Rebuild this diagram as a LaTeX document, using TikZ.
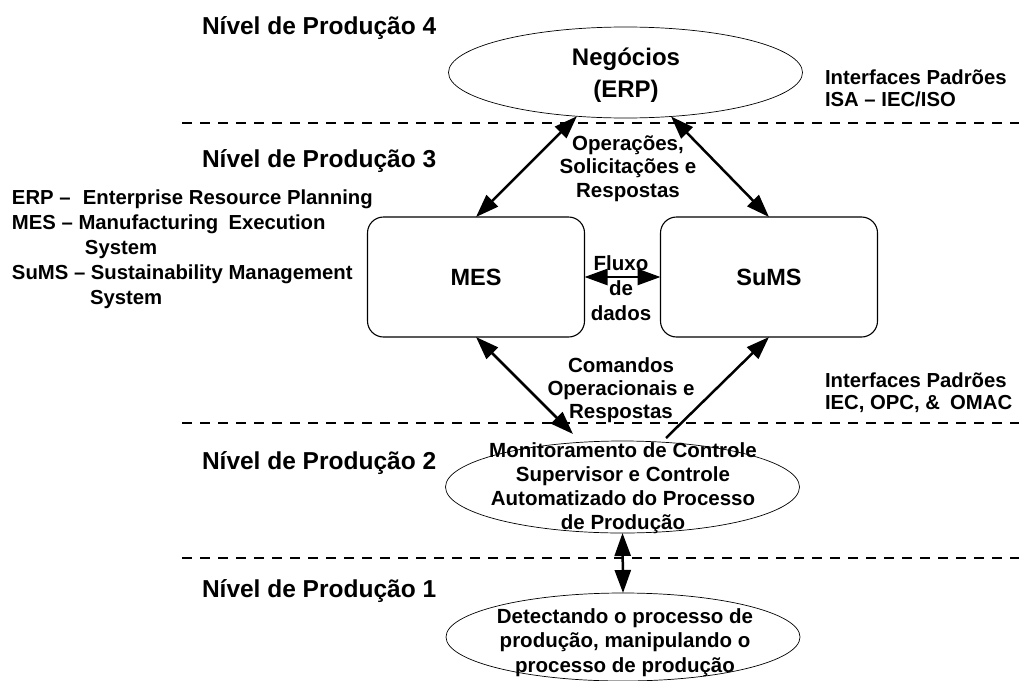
\documentclass[tikz,border=0pt]{standalone}
\usepackage{fontspec}
\setmainfont{Liberation Sans}
\usetikzlibrary{shapes.geometric,arrows.meta,calc}

% font size helper and stacked lines whose first baseline is the box baseline
\newcommand\setfs[2]{\fontsize{#1}{#2}\selectfont}
\newcommand\txtlines[2]{\begin{tabular}[t]{@{}#1@{}}#2\end{tabular}}

\begin{document}
\begin{tikzpicture}[x=1pt,y=-1pt,
  every node/.style={inner sep=0pt, outer sep=0pt},
  levellabel/.style={anchor=base west, font=\bfseries\setfs{24.5}{29}},
  note/.style={anchor=base west, font=\bfseries\setfs{20.3}{22}},
  flowtext/.style={anchor=base, font=\bfseries\setfs{20.5}{24}},
  sysbox/.style={draw, line width=1.1pt, rounded corners=16pt,
    minimum width=217pt, minimum height=120pt, font=\bfseries\setfs{23.5}{27}},
  stage/.style={draw, ellipse, line width=0.7pt, minimum width=354pt},
  tip/.tip={Triangle[length=23pt,width=16pt]},
  link/.style={line width=2.5pt, tip-tip},
  uplink/.style={line width=2.5pt, -tip},
  levelsep/.style={line width=1.4pt, dash pattern=on 10pt off 8pt}
]
\useasboundingbox (0,0) rectangle (1019,680);
\fill[white] (0,0) rectangle (1019,680);

% production level separators
\draw[levelsep] (182,123) -- (1019,123);
\draw[levelsep] (182,423) -- (1019,423);
\draw[levelsep] (182,558) -- (1019,558);

% level labels
\node[levellabel] (n4) at (202,34)  {Nível de Produção 4};
\node[levellabel] (n3) at (202,167) {Nível de Produção 3};
\node[levellabel] (n2) at (202,469) {Nível de Produção 2};
\node[levellabel] (n1) at (202,597) {Nível de Produção 1};

% abbreviations
\node[note, font=\bfseries\setfs{20.3}{25}] (legend) at (12,204)
  {\txtlines{l}{ERP –\hspace{0.6em}Enterprise Resource Planning\\
   MES – Manufacturing\hspace{0.5em}Execution\\
   \hspace*{73pt}System\\
   SuMS – Sustainability Management\\
   \hspace*{78pt}System}};

% standard interfaces
\node[note] (ifaceA) at (825,84)  {\txtlines{l}{Interfaces Padrões\\ISA – IEC/ISO}};
\node[note] (ifaceB) at (825,387) {\txtlines{l}{Interfaces Padrões\\IEC, OPC, \&\hspace{0.5em}OMAC}};

% level 4: business
\node[stage, minimum height=91pt] (erp) at (625.5,72.5) {};
\node[flowtext, font=\bfseries\setfs{24}{32}] (erptext) at (626,65)
  {\txtlines{c}{Negócios\\(ERP)}};

% level 3: MES and SuMS
\node[sysbox] (mes)  at (476,277) {MES};
\node[sysbox] (sums) at (769,277) {SuMS};

% level 2 and level 1
\node[stage, minimum height=92pt] (ctrl)  at (622.5,487) {};
\node[stage, minimum height=88pt] (sense) at (623,637) {};

\node[flowtext, font=\bfseries\setfs{20.5}{24.3}] (ctrltext) at (623,457)
  {\txtlines{c}{Monitoramento de Controle\\Supervisor e Controle\\Automatizado do Processo\\de Produção}};
\node[flowtext, font=\bfseries\setfs{20.5}{24.5}] (sensetext) at (625,623)
  {\txtlines{c}{Detectando o processo de\\produção, manipulando o\\processo de produção}};

% connectors
\draw[link] (erp.222) -- (mes.north);
\draw[link] (erp.316.6) -- (sums.north);
\draw[link] (mes.east) -- (sums.west);
\coordinate (cmdtip) at (573,434);
\draw[link] (mes.south) -- (cmdtip);
\coordinate (sumsfoot) at (666,438);
\draw[uplink] (sumsfoot) -- (sums.south);
\draw[link] (ctrl.south) -- (sense.north);

% connector labels
\node[flowtext, font=\bfseries\setfs{20.5}{23.5}] (opstext) at (628,150)
  {\txtlines{c}{Operações,\\Solicitações e\\Respostas}};
\node[flowtext, font=\bfseries\setfs{20.5}{25}] (flowlbl) at (621,270)
  {\txtlines{c}{Fluxo\\de\\dados}};
\node[flowtext, font=\bfseries\setfs{20.5}{23}] (cmdtext) at (621,372)
  {\txtlines{c}{Comandos\\Operacionais e\\Respostas}};
\end{tikzpicture}
\end{document}
